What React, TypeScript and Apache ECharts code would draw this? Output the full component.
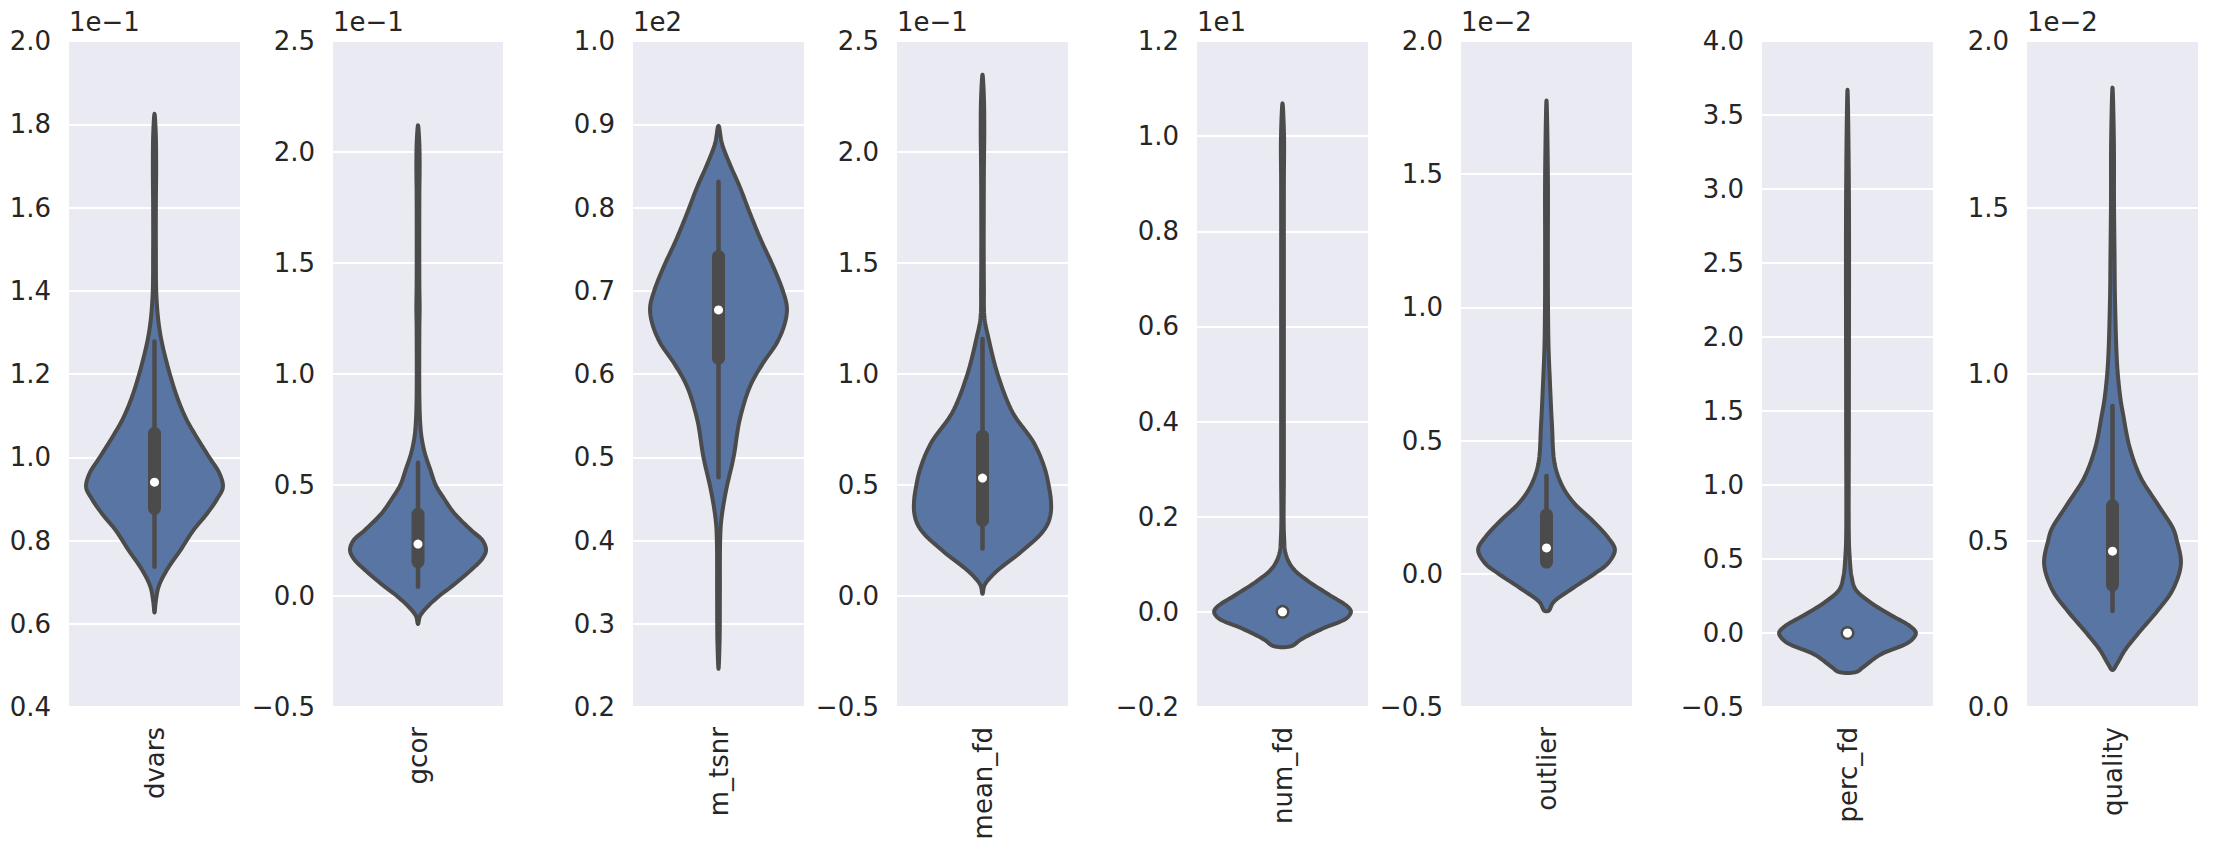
import React, { useEffect, useRef } from "react";
import * as echarts from "echarts";

// ---- categories / axes ----
const NAMES = ["dvars", "gcor", "m_tsnr", "mean_fd", "num_fd", "outlier", "perc_fd", "quality"];
const Y_MIN = [0.4, -0.5, 0.2, -0.5, -0.2, -0.5, -0.5, 0.0];
const Y_MAX = [2.0, 2.5, 1.0, 2.5, 1.2, 2.0, 4.0, 2.0];
const Y_STEP = [0.2, 0.5, 0.1, 0.5, 0.2, 0.5, 0.5, 0.5];
const OFFSET_TEXT = ["1e\u22121", "1e\u22121", "1e2", "1e\u22121", "1e1", "1e\u22122", "", "1e\u22122"];

// ---- violin density profiles: [value (axis units), relative half-width 0..1] ----
const DVARS_PROFILE = [[0.627, 0], [0.653, 0.018], [0.689, 0.06], [0.729, 0.18], [0.777, 0.38], [0.825, 0.57], [0.865, 0.77], [0.901, 0.92], [0.928, 1.0], [0.961, 0.95], [1.0, 0.8], [1.05, 0.61], [1.09, 0.47], [1.14, 0.34], [1.22, 0.19], [1.3, 0.08], [1.38, 0.03], [1.5, 0.02], [1.6, 0.02], [1.7, 0.024], [1.78, 0.018], [1.825, 0]];
const GCOR_PROFILE = [[-0.126, 0], [-0.09, 0.03], [-0.045, 0.15], [0.0, 0.31], [0.042, 0.49], [0.117, 0.78], [0.17, 0.95], [0.207, 1.0], [0.25, 0.95], [0.297, 0.78], [0.374, 0.53], [0.44, 0.38], [0.5, 0.26], [0.57, 0.18], [0.644, 0.1], [0.72, 0.05], [0.793, 0.03], [0.9, 0.02], [1.2, 0.02], [1.3, 0.024], [1.4, 0.02], [1.8, 0.02], [1.95, 0.024], [2.05, 0.018], [2.12, 0]];
const MTSNR_PROFILE = [[0.246, 0], [0.28, 0.016], [0.33, 0.02], [0.4, 0.024], [0.424, 0.04], [0.46, 0.11], [0.5, 0.22], [0.545, 0.31], [0.585, 0.46], [0.613, 0.65], [0.637, 0.85], [0.661, 0.97], [0.68, 1.0], [0.7, 0.94], [0.729, 0.8], [0.761, 0.62], [0.793, 0.46], [0.825, 0.31], [0.853, 0.16], [0.877, 0.05], [0.898, 0]];
const MEANFD_PROFILE = [[0.01, 0], [0.049, 0.03], [0.107, 0.19], [0.195, 0.55], [0.282, 0.86], [0.33, 0.96], [0.38, 1.0], [0.43, 1.0], [0.477, 0.98], [0.574, 0.91], [0.69, 0.75], [0.827, 0.44], [1.0, 0.22], [1.158, 0.09], [1.25, 0.03], [1.4, 0.02], [1.9, 0.02], [2.1, 0.026], [2.25, 0.02], [2.348, 0]];
const NUMFD_PROFILE = [[-0.072, 0.13], [-0.058, 0.27], [-0.035, 0.59], [-0.013, 0.94], [0.0, 1.0], [0.01, 0.96], [0.037, 0.67], [0.065, 0.37], [0.092, 0.15], [0.12, 0.05], [0.16, 0.022], [0.3, 0.02], [0.6, 0.02], [0.9, 0.02], [1.0, 0.022], [1.069, 0]];
const OUTLIER_PROFILE = [[-0.139, 0.03], [-0.107, 0.1], [-0.058, 0.36], [0.0, 0.7], [0.04, 0.9], [0.09, 1.0], [0.136, 0.9], [0.2, 0.67], [0.266, 0.4], [0.33, 0.23], [0.412, 0.12], [0.558, 0.08], [0.72, 0.05], [0.85, 0.03], [1.0, 0.022], [1.2, 0.02], [1.5, 0.02], [1.777, 0]];
const PERCFD_PROFILE = [[-0.263, 0.13], [-0.234, 0.22], [-0.146, 0.48], [-0.058, 0.91], [0.0, 1.0], [0.044, 0.92], [0.117, 0.65], [0.205, 0.34], [0.293, 0.12], [0.38, 0.06], [0.526, 0.03], [0.64, 0.02], [1.5, 0.02], [3.0, 0.02], [3.67, 0]];
const QUALITY_PROFILE = [[0.111, 0], [0.131, 0.07], [0.17, 0.18], [0.222, 0.38], [0.287, 0.65], [0.352, 0.88], [0.43, 1.0], [0.5, 0.94], [0.534, 0.89], [0.612, 0.65], [0.69, 0.41], [0.78, 0.25], [0.885, 0.15], [0.92, 0.12], [1.02, 0.07], [1.22, 0.037], [1.35, 0.03], [1.52, 0.022], [1.7, 0.02], [1.86, 0]];
const PROFILES = [DVARS_PROFILE, GCOR_PROFILE, MTSNR_PROFILE, MEANFD_PROFILE, NUMFD_PROFILE, OUTLIER_PROFILE, PERCFD_PROFILE, QUALITY_PROFILE];

// ---- inner box stats: [whisker low, q1, median, q3, whisker high] ----
const BOX_STATS = [
  [0.737, 0.877, 0.94, 1.0575, 1.278],
  [0.042, 0.155, 0.234, 0.368, 0.6],
  [0.476, 0.619, 0.677, 0.741, 0.831],
  [0.214, 0.34, 0.531, 0.72, 1.158],
  [0, 0, 0, 0, 0],
  [0.03, 0.044, 0.097, 0.221, 0.367],
  [0, 0, 0, 0, 0],
  [0.288, 0.366, 0.468, 0.604, 0.904],
];

// ---- layout / style ----
const GRID_LEFT = [69, 333, 633, 897, 1197, 1461, 1762, 2027];
const GRID_WIDTH = [171, 170, 171, 171, 171, 171, 171, 171];
const GRID_TOP = 41;
const GRID_HEIGHT = 666;
const FILL = "#5875a4";
const DARK = "#4b4b4b";
const TEXT = "#262626";
const FONT = "DejaVu Sans";
const FS = 26;

function fmt(v: number) {
  const s = Math.abs(v).toFixed(1);
  return (v < -1e-9 ? "\u2212" : "") + s;
}

// centripetal Catmull-Rom through a closed loop of pixel points (drawing only)
function smoothLoop(pts: number[][], steps: number): number[][] {
  const n = pts.length;
  const out: number[][] = [];
  const tj = (ti: number, a: number[], b: number[]) =>
    ti + Math.max(Math.pow(Math.hypot(b[0] - a[0], b[1] - a[1]), 0.5), 1e-4);
  for (let i = 0; i < n; i++) {
    const p0 = pts[(i - 1 + n) % n];
    const p1 = pts[i];
    const p2 = pts[(i + 1) % n];
    const p3 = pts[(i + 2) % n];
    const t0 = 0;
    const t1 = tj(t0, p0, p1);
    const t2 = tj(t1, p1, p2);
    const t3 = tj(t2, p2, p3);
    for (let s = 0; s < steps; s++) {
      const t = t1 + ((t2 - t1) * s) / steps;
      const lerp = (a: number[], b: number[], ta: number, tb: number) => [
        ((tb - t) / (tb - ta)) * a[0] + ((t - ta) / (tb - ta)) * b[0],
        ((tb - t) / (tb - ta)) * a[1] + ((t - ta) / (tb - ta)) * b[1],
      ];
      const A1 = lerp(p0, p1, t0, t1);
      const A2 = lerp(p1, p2, t1, t2);
      const A3 = lerp(p2, p3, t2, t3);
      const B1 = lerp(A1, A2, t0, t2);
      const B2 = lerp(A2, A3, t1, t3);
      out.push(lerp(B1, B2, t1, t2));
    }
  }
  return out;
}

function makeRenderItem(i: number) {
  return (params: any, api: any) => {
    const prof = PROFILES[i];
    const band = api.size([1, 0])[0];
    const maxHalf = band * 0.4;
    const cx = api.coord([0, prof[0][0]])[0];
    const left = prof.map(([v, f]) => {
      const p = api.coord([0, v]);
      return [p[0] - f * maxHalf, p[1]];
    });
    const right: number[][] = [];
    for (let k = prof.length - 1; k >= 0; k--) {
      const [v, f] = prof[k];
      if (f === 0) continue; // tips already in left side
      const p = api.coord([0, v]);
      right.push([p[0] + f * maxHalf, p[1]]);
    }
    const outline = smoothLoop(left.concat(right), 10);
    const [wl, q1, med, q3, wh] = BOX_STATS[i];
    const y = (v: number) => api.coord([0, v])[1];
    const children: any[] = [
      {
        type: "polygon",
        shape: { points: outline },
        style: { fill: FILL, stroke: DARK, lineWidth: 4, lineJoin: "round" },
      },
    ];
    if (wh > wl) {
      children.push({
        type: "line",
        shape: { x1: cx, y1: y(wl), x2: cx, y2: y(wh) },
        style: { stroke: DARK, lineWidth: 4.5, lineCap: "round" },
      });
    }
    if (q3 > q1) {
      children.push({
        type: "line",
        shape: { x1: cx, y1: y(q1), x2: cx, y2: y(q3) },
        style: { stroke: DARK, lineWidth: 13, lineCap: "round" },
      });
    } else {
      children.push({
        type: "circle",
        shape: { cx, cy: y(q1), r: 7 },
        style: { fill: DARK },
      });
    }
    children.push({
      type: "circle",
      shape: { cx, cy: y(med), r: 4.5 },
      style: { fill: "#ffffff" },
    });
    return { type: "group", children };
  };
}

export default function App() {
  const ref = useRef<HTMLDivElement>(null);
  useEffect(() => {
    if (!ref.current) return;
    const chart = echarts.init(ref.current, null, { renderer: "svg" });
    const grid = NAMES.map((_, i) => ({
      left: GRID_LEFT[i],
      top: GRID_TOP,
      width: GRID_WIDTH[i],
      height: GRID_HEIGHT,
      show: true,
      backgroundColor: "#eaeaf2",
      borderWidth: 0,
      containLabel: false,
    }));
    const xAxis = NAMES.map((n, i) => ({
      type: "category",
      gridIndex: i,
      data: [n],
      boundaryGap: true,
      axisLine: { show: false },
      axisTick: { show: false },
      splitLine: { show: false },
      axisLabel: {
        rotate: 90,
        margin: 20,
        fontSize: FS,
        fontFamily: FONT,
        color: TEXT,
      },
    }));
    const yAxis = NAMES.map((_, i) => ({
      type: "value",
      gridIndex: i,
      min: Y_MIN[i],
      max: Y_MAX[i],
      interval: Y_STEP[i],
      name: OFFSET_TEXT[i],
      nameLocation: "end",
      nameGap: 6,
      nameTextStyle: {
        fontSize: FS,
        fontFamily: FONT,
        color: TEXT,
        align: "left",
        verticalAlign: "bottom",
      },
      axisLine: { show: false },
      axisTick: { show: false },
      splitLine: { show: true, lineStyle: { color: "#ffffff", width: 2 } },
      axisLabel: {
        margin: 18,
        fontSize: FS,
        fontFamily: FONT,
        color: TEXT,
        formatter: fmt,
      },
    }));
    const series = NAMES.map((_, i) => ({
      type: "custom",
      xAxisIndex: i,
      yAxisIndex: i,
      data: [[0, BOX_STATS[i][2]]],
      renderItem: makeRenderItem(i),
      clip: false,
      silent: true,
    }));
    chart.setOption({
      animation: false,
      backgroundColor: "#ffffff",
      textStyle: { fontFamily: FONT },
      grid,
      xAxis,
      yAxis,
      series,
    } as any);
    return () => chart.dispose();
  }, []);
  return (
    <div
      ref={ref}
      style={{ position: "fixed", left: 0, top: 0, width: 2238, height: 843, background: "#fff" }}
    />
  );
}
